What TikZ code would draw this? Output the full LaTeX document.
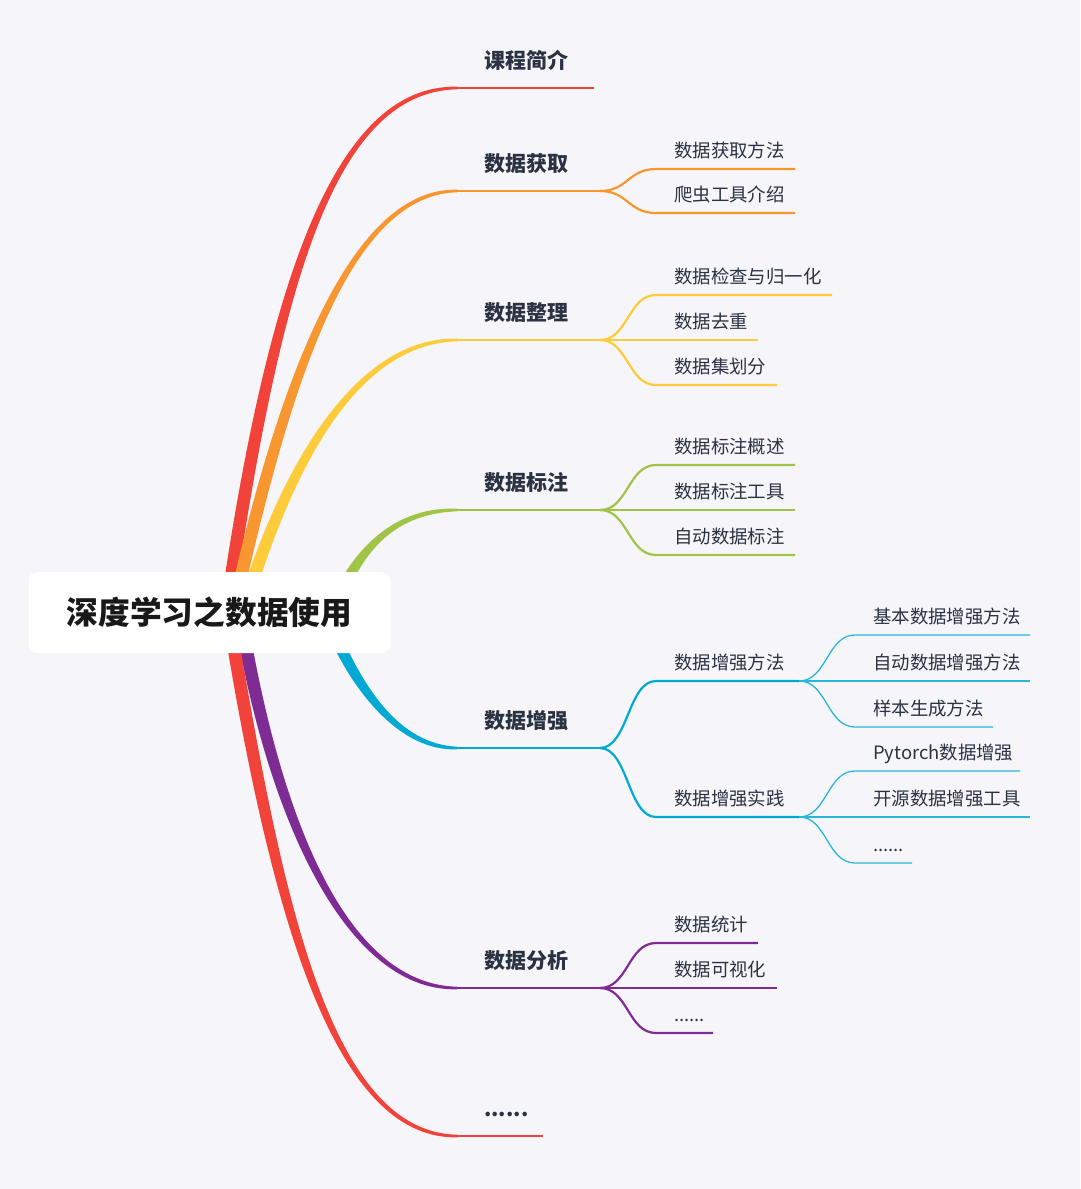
\documentclass[tikz,border=0pt]{standalone}
\usepackage{fontspec}
\setmainfont{Noto Sans CJK SC}
\definecolor{bg}{HTML}{F5F5FA}
\definecolor{cred}{HTML}{F2433A}
\definecolor{corange}{HTML}{F8962F}
\definecolor{cyellow}{HTML}{FECB3A}
\definecolor{cgreen}{HTML}{A0C447}
\definecolor{ccyan}{HTML}{02A9D2}
\definecolor{cpurple}{HTML}{7F2B94}
\definecolor{txt}{HTML}{2B3242}
% tapered main branch: color, x0,y0, x1,y1, x2, x3,y3, sign(-1 up / +1 down)
\newcommand\taper[9]{%
  \fill[#1] ({#2-6.5},#3) .. controls ({#4-7},#5) and (#6,{#8+(#9)*4}) .. (#7,{#8+(#9)*1.3})
    -- (#7,{#8-(#9)*1.3}) .. controls (#6,{#8-(#9)*4}) and ({#4+7},#5) .. ({#2+6.5},#3) -- cycle;}
% child: style, jx, jy, y, endx, text, name
\newcommand\kid[7]{%
  \coordinate (#7s) at ({#2+56},#4);
  \coordinate (#7e) at (#5,#4);
  \draw[#1] (#2,#3) .. controls ({#2+28},#3) and ({#2+28},#4) .. (#7s) -- (#7e);
  \node[l2] (#7) at ({#2+74},{#4-12}) {#6};}
\begin{document}
\begin{tikzpicture}[x=1pt,y=-1pt,
  l1/.style={font=\fontsize{21}{24}\selectfont\bfseries, text=txt, inner sep=0, anchor=base west},
  l2/.style={font=\fontsize{18.4}{22}\selectfont, text=txt, inner sep=0, anchor=base west},
  ul/.style={line width=2.6pt},
  k2/.style={line width=2.2pt},
  k3/.style={line width=1.3pt, ccyan!85}]
\fill[bg] (0,0) rectangle (1080,1189);
\useasboundingbox (0,0) rectangle (1080,1189);

% main tapered branches
\taper{cred}{226}{612}{272}{298}{330}{457}{88}{-1}
\taper{corange}{233}{612}{280}{400}{345}{457}{191}{-1}
\taper{cyellow}{243}{612}{285}{470}{355}{457}{340}{-1}
\taper{cgreen}{332}{612}{352}{562}{385}{457}{510}{-1}
\taper{ccyan}{325}{612}{355}{690}{400}{457}{748}{1}
\taper{cpurple}{240}{612}{270}{800}{340}{457}{988}{1}
\taper{cred}{228}{612}{275}{900}{330}{457}{1136}{1}

% root
\node[fill=white, rounded corners=9pt, minimum width=362pt, minimum height=81pt, inner sep=0,
  font=\fontsize{31.7}{36}\selectfont\bfseries, text=black!90] (root) at (209.5,612.5) {深度学习之数据使用};

% level-1 underlines and junctions
\coordinate (j1) at (594,88);
\coordinate (j2) at (600,191);
\coordinate (j3) at (600,340);
\coordinate (j4) at (600,510);
\coordinate (j5) at (600,748);
\coordinate (j6) at (600,988);
\coordinate (j7) at (543,1136);
\draw[cred,ul] (455,88) -- (j1);
\draw[corange,ul] (455,191) -- (j2);
\draw[cyellow,ul] (455,340) -- (j3);
\draw[cgreen,ul] (455,510) -- (j4);
\draw[ccyan,ul] (455,748) -- (j5);
\draw[cpurple,ul] (455,988) -- (j6);
\draw[cred,ul] (455,1136) -- (j7);

\node[l1] (t1) at (484,68) {课程简介};
\node[l1] (t2) at (484,171) {数据获取};
\node[l1] (t3) at (484,320) {数据整理};
\node[l1] (t4) at (484,490) {数据标注};
\node[l1] (t5) at (484,728) {数据增强};
\node[l1] (t6) at (484,968) {数据分析};
\node[l1] (t7) at (484,1116) {......};

% level 2
\kid{corange,k2}{600}{191}{169}{795}{数据获取方法}{a1}
\kid{corange,k2}{600}{191}{213}{795}{爬虫工具介绍}{a2}

\kid{cyellow,k2}{600}{340}{295}{832}{数据检查与归一化}{b1}
\kid{cyellow,k2}{600}{340}{340}{758}{数据去重}{b2}
\kid{cyellow,k2}{600}{340}{385}{777}{数据集划分}{b3}

\kid{cgreen,k2}{600}{510}{465}{795}{数据标注概述}{c1}
\kid{cgreen,k2}{600}{510}{510}{795}{数据标注工具}{c2}
\kid{cgreen,k2}{600}{510}{555}{795}{自动数据标注}{c3}

\kid{ccyan,k2}{600}{748}{681}{799}{数据增强方法}{d1}
\kid{ccyan,k2}{600}{748}{817}{799}{数据增强实践}{d2}

\kid{cpurple,k2}{600}{988}{943}{758}{数据统计}{f1}
\kid{cpurple,k2}{600}{988}{988}{777}{数据可视化}{f2}
\kid{cpurple,k2}{600}{988}{1033}{713}{......}{f3}

% level 3
\kid{k3}{799}{681}{635}{1030}{基本数据增强方法}{e1}
\kid{k3}{799}{681}{681}{1030}{自动数据增强方法}{e2}
\kid{k3}{799}{681}{727}{993}{样本生成方法}{e3}
\kid{k3}{799}{817}{771}{1020}{Pytorch数据增强}{e4}
\kid{k3}{799}{817}{817}{1030}{开源数据增强工具}{e5}
\kid{k3}{799}{817}{863}{912}{......}{e6}
\end{tikzpicture}
\end{document}
